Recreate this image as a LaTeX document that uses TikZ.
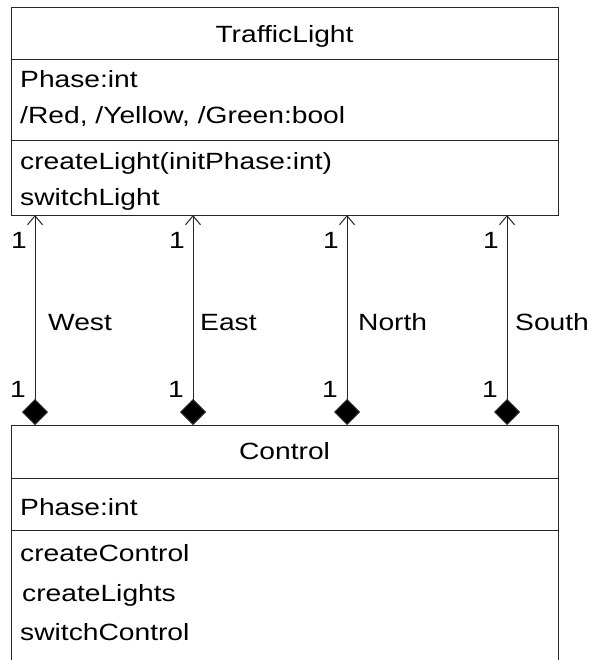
\documentclass[tikz,border=0pt]{standalone}
\usepackage{fontspec}
\setmainfont[FakeStretch=1.2]{Liberation Sans}
\usetikzlibrary{arrows.meta}
\begin{document}
\begin{tikzpicture}[x=1pt,y=-1pt,
  boxline/.style={draw=black!85,line width=1pt},
  txt/.style={inner sep=0pt,anchor=base west,font=\fontsize{23.5}{28}\selectfont},
  ctxt/.style={inner sep=0pt,anchor=base,font=\fontsize{23.5}{28}\selectfont},
  mult/.style={inner sep=0pt,anchor=base east,font=\fontsize{23.5}{28}\selectfont},
  assoc/.style={draw=black!85,line width=1pt,{Diamond[length=26pt,width=26pt,fill=black]}-{Straight Barb[length=9pt,width=15pt,line width=1pt]}}
]
\useasboundingbox (0,0) rectangle (588,660);
% TrafficLight class
\node[boxline,rectangle,minimum width=547pt,minimum height=208pt,inner sep=0pt,anchor=north west] (tl) at (11,7) {};
\draw[boxline] (11,60) -- (558,60);
\draw[boxline] (11,141) -- (558,141);
\node[ctxt] (tlname) at (284.5,43) {TrafficLight};
\node[txt] (tla1) at (20,88) {Phase:int};
\node[txt] (tla2) at (20,124) {/Red, /Yellow, /Green:bool};
\node[txt] (tlo1) at (20,170) {createLight(initPhase:int)};
\node[txt] (tlo2) at (20,205) {switchLight};
% Control class
\node[boxline,rectangle,minimum width=547pt,minimum height=240pt,inner sep=0pt,anchor=north west] (ctl) at (11,425) {};
\draw[boxline] (11,478) -- (558,478);
\draw[boxline] (11,530) -- (558,530);
\node[ctxt] (ctlname) at (284.5,459) {Control};
\node[txt] (cta1) at (20,515) {Phase:int};
\node[txt] (cto1) at (20,561) {createControl};
\node[txt] (cto2) at (22,601) {createLights};
\node[txt] (cto3) at (20,640) {switchControl};
% associations
\foreach \x/\n in {35/w,193/e,347/n,507/s}{
  \coordinate (cb\n) at (\x,425);
  \coordinate (tb\n) at (\x,215);
  \draw[assoc] (cb\n) -- (tb\n);
  \node[mult] (mt\n) at (\x-8,248) {1};
  \node[mult] (mb\n) at (\x-9,397) {1};
}
\node[txt] (lw) at (48,330) {West};
\node[txt] (le) at (200,330) {East};
\node[txt] (ln) at (358,330) {North};
\node[txt] (ls) at (515,330) {South};
\end{tikzpicture}
\end{document}
